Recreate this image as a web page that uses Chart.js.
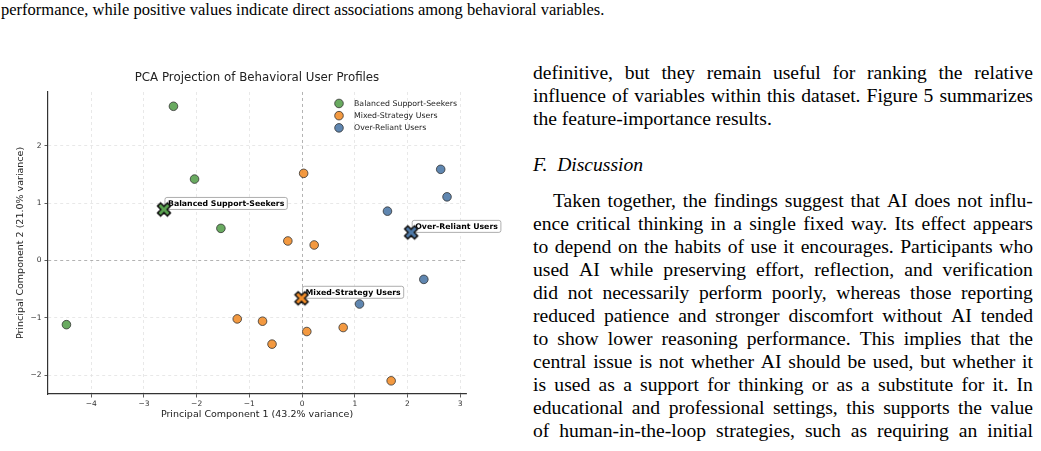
<!DOCTYPE html>
<html lang="en">
<head>
<meta charset="UTF-8">
<title>PCA Projection of Behavioral User Profiles</title>
<script src="https://cdn.jsdelivr.net/npm/chart.js"></script>
<style>
    body {
        margin: 0;
        width: 1041px;
        height: 451px;
        position: relative;
        overflow: hidden;
        background: #fff;
        color: #000;
        font-family: "Liberation Serif", "Times New Roman", serif;
    }
    #pcaChart { position: absolute; left: 0; top: 0; }
    .caption {
        position: absolute; left: 1px; top: 1px;
        font-size: 16.5px; line-height: 18px; white-space: nowrap;
    }
    .col { position: absolute; left: 533px; top: 0; width: 500px; font-size: 19.6px; }
    .ln {
        position: absolute; left: 0; width: 500px; height: 23px; line-height: 23px;
        display: flex; justify-content: space-between; white-space: nowrap;
    }
    .ln.last { justify-content: flex-start; white-space: pre; }
    .ln.indent { left: 20px; width: 480px; }
    .head { font-style: italic; white-space: pre; }
</style>
</head>
<body>
<div class="caption">performance, while positive values indicate direct associations among behavioral variables.</div>

<canvas id="pcaChart" width="530" height="451"></canvas>

<div class="col">
    <div class="ln j" style="top:61px">definitive, but they remain useful for ranking the relative</div>
    <div class="ln j" style="top:84px">influence of variables within this dataset. Figure 5 summarizes</div>
    <div class="ln last" style="top:107px">the feature-importance results.</div>
    <div class="ln last head" style="top:153px">F.  Discussion</div>
    <div class="ln j indent" style="top:189px">Taken together, the findings suggest that AI does not influ-</div>
    <div class="ln j" style="top:212px">ence critical thinking in a single fixed way. Its effect appears</div>
    <div class="ln j" style="top:235px">to depend on the habits of use it encourages. Participants who</div>
    <div class="ln j" style="top:258px">used AI while preserving effort, reflection, and verification</div>
    <div class="ln j" style="top:281px">did not necessarily perform poorly, whereas those reporting</div>
    <div class="ln j" style="top:304px">reduced patience and stronger discomfort without AI tended</div>
    <div class="ln j" style="top:327px">to show lower reasoning performance. This implies that the</div>
    <div class="ln j" style="top:350px">central issue is not whether AI should be used, but whether it</div>
    <div class="ln j" style="top:373px">is used as a support for thinking or as a substitute for it. In</div>
    <div class="ln j" style="top:396px">educational and professional settings, this supports the value</div>
    <div class="ln j" style="top:419px">of human-in-the-loop strategies, such as requiring an initial</div>
</div>

<script>
    // PCA scores
    const groupNames = ['Balanced Support-Seekers', 'Mixed-Strategy Users', 'Over-Reliant Users'];
    const balancedX = [-2.44, -2.04, -1.54, -4.47];
    const balancedY = [2.69, 1.42, 0.56, -1.12];
    const mixedX = [0.03, -0.27, 0.23, -1.23, -0.75, -0.57, 0.09, 0.78, 1.69];
    const mixedY = [1.52, 0.34, 0.27, -1.02, -1.06, -1.46, -1.24, -1.17, -2.10];
    const overX = [2.63, 2.75, 1.62, 2.31, 1.09];
    const overY = [1.59, 1.11, 0.86, -0.33, -0.76];
    // cluster centroids
    const centroidX = [-2.62, -0.01, 2.07];
    const centroidY = [0.89, -0.66, 0.49];
    const xTicks = [-4, -3, -2, -1, 0, 1, 2, 3];
    const yTicks = [-2, -1, 0, 1, 2];

    const colors = ['#59a14f', '#f28e2b', '#4e79a7'];
    const fills = ['rgba(89,161,79,0.9)', 'rgba(242,142,43,0.9)', 'rgba(78,121,167,0.9)'];

    // justify the text lines word by word
    document.querySelectorAll('.ln.j').forEach(el => {
        const words = el.textContent.trim().split(/\s+/);
        el.textContent = '';
        words.forEach(w => {
            const s = document.createElement('span');
            s.textContent = w;
            el.appendChild(s);
        });
    });

    function toPoints(xs, ys) {
        return xs.map((x, i) => ({ x: x, y: ys[i] }));
    }

    // filled "X" marker like matplotlib's, drawn once into a small canvas
    function makeX(color) {
        const c = document.createElement('canvas');
        c.width = 18; c.height = 18;
        const g = c.getContext('2d');
        const a = 2.2, L = 7;
        g.translate(9, 9);
        g.rotate(Math.PI / 4);
        g.beginPath();
        g.moveTo(-a, -L); g.lineTo(a, -L); g.lineTo(a, -a); g.lineTo(L, -a);
        g.lineTo(L, a); g.lineTo(a, a); g.lineTo(a, L); g.lineTo(-a, L);
        g.lineTo(-a, a); g.lineTo(-L, a); g.lineTo(-L, -a); g.lineTo(-a, -a);
        g.closePath();
        g.fillStyle = color;
        g.fill();
        g.lineWidth = 1.5;
        g.strokeStyle = '#111';
        g.stroke();
        return c;
    }

    // boxed labels next to the centroids
    const centroidLabels = {
        id: 'centroidLabels',
        beforeDatasetsDraw(chart) {
            const meta = chart.getDatasetMeta(3);
            const ctx = chart.ctx;
            ctx.save();
            ctx.font = 'bold 7.8px "DejaVu Sans"';
            ctx.textBaseline = 'middle';
            meta.data.forEach((pt, i) => {
                const text = groupNames[i];
                const w = ctx.measureText(text).width;
                const bx = pt.x + 1, by = pt.y - 12, bw = w + 6, bh = 12;
                ctx.beginPath();
                ctx.roundRect(bx, by, bw, bh, 2);
                ctx.fillStyle = 'rgba(255,255,255,0.9)';
                ctx.fill();
                ctx.lineWidth = 0.8;
                ctx.strokeStyle = '#999';
                ctx.stroke();
                ctx.fillStyle = '#000';
                ctx.fillText(text, bx + 3, by + bh / 2 + 0.5);
            });
            ctx.restore();
        }
    };

    // legend inside the plot, upper right, no frame
    const innerLegend = {
        id: 'innerLegend',
        afterDraw(chart) {
            const { ctx, chartArea } = chart;
            ctx.save();
            ctx.font = '7.8px "DejaVu Sans"';
            ctx.textBaseline = 'middle';
            groupNames.forEach((name, i) => {
                const x = chartArea.right - 127;
                const y = chartArea.top + 11.5 + i * 12.2;
                ctx.beginPath();
                ctx.arc(x, y, 4.3, 0, Math.PI * 2);
                ctx.fillStyle = fills[i];
                ctx.fill();
                ctx.lineWidth = 0.8;
                ctx.strokeStyle = '#333';
                ctx.stroke();
                ctx.fillStyle = '#222';
                ctx.fillText(name, x + 15, y + 0.5);
            });
            ctx.restore();
        }
    };

    const minus = v => (v < 0 ? '\u2212' + Math.abs(v) : String(v));
    const gridColor = c => (c.tick && c.tick.value === 0 ? '#a0a0a0' : '#e3e3e3');

    const groupData = [toPoints(balancedX, balancedY), toPoints(mixedX, mixedY), toPoints(overX, overY)];

    const ctx = document.getElementById('pcaChart').getContext('2d');
    new Chart(ctx, {
        type: 'scatter',
        data: {
            datasets: groupData.map((d, i) => ({
                label: groupNames[i],
                data: d,
                backgroundColor: fills[i],
                borderColor: '#333',
                borderWidth: 0.8,
                pointRadius: 4.3,
                order: 1
            })).concat([{
                label: 'Centroids',
                data: toPoints(centroidX, centroidY),
                pointStyle: colors.map(makeX),
                pointRadius: 7,
                order: 0
            }])
        },
        options: {
            responsive: false,
            animation: false,
            events: [],
            layout: { padding: { left: 0, right: 64, top: 0, bottom: 0 } },
            plugins: {
                legend: { display: false },
                tooltip: { enabled: false },
                title: {
                    display: true,
                    fullSize: false,
                    text: 'PCA Projection of Behavioral User Profiles',
                    color: '#222',
                    font: { family: 'DejaVu Sans', size: 11.8, weight: 'normal' },
                    padding: { top: 71, bottom: 6.8 }
                }
            },
            scales: {
                x: {
                    type: 'linear',
                    position: 'bottom',
                    min: -4.82,
                    max: 3.11,
                    afterBuildTicks: s => { s.ticks = xTicks.map(v => ({ value: v })); },
                    afterFit: s => { s.height = 57; },
                    ticks: { callback: minus, color: '#333', padding: 2, maxRotation: 0,
                             font: { family: 'DejaVu Sans', size: 7.5 } },
                    grid: { color: gridColor, lineWidth: 0.8, tickLength: 3.5, tickColor: '#333', tickWidth: 0.8 },
                    border: { display: true, color: '#333', width: 1.2, dash: [3, 3] },
                    title: {
                        display: true,
                        text: 'Principal Component 1 (43.2% variance)',
                        color: '#222',
                        font: { family: 'DejaVu Sans', size: 9.5 },
                        padding: { top: 0, bottom: 30.3 }
                    }
                },
                y: {
                    type: 'linear',
                    position: 'left',
                    min: -2.33,
                    max: 2.94,
                    afterBuildTicks: s => { s.ticks = yTicks.map(v => ({ value: v })); },
                    afterFit: s => { s.width = 48; },
                    ticks: { callback: minus, color: '#333', padding: 3,
                             font: { family: 'DejaVu Sans', size: 7.5 } },
                    grid: { color: gridColor, lineWidth: 0.8, tickLength: 3.5, tickColor: '#333', tickWidth: 0.8 },
                    border: { display: true, color: '#333', width: 1.2, dash: [3, 3] },
                    title: {
                        display: true,
                        text: 'Principal Component 2 (21.0% variance)',
                        color: '#222',
                        font: { family: 'DejaVu Sans', size: 9.5 },
                        padding: { top: 14.8, bottom: 0 }
                    }
                }
            }
        },
        plugins: [centroidLabels, innerLegend]
    });
</script>
</body>
</html>
